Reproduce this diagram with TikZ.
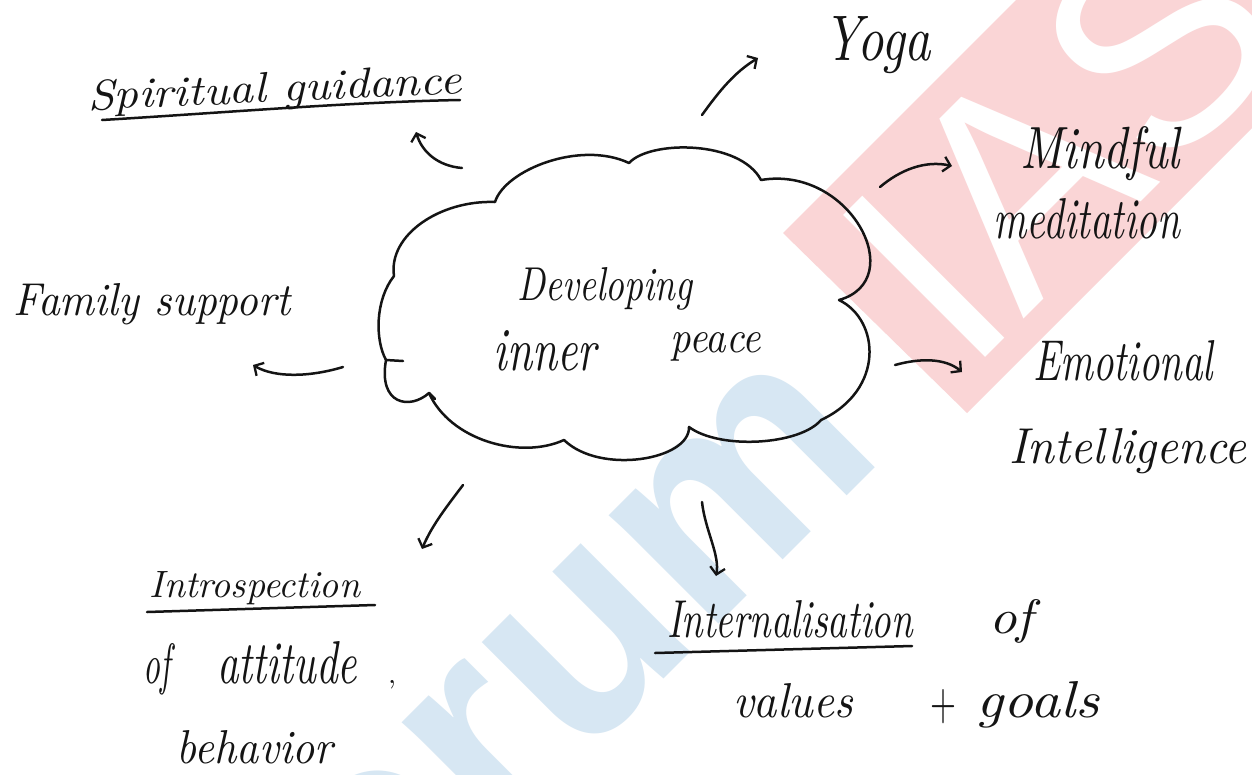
\documentclass[tikz,border=0pt]{standalone}
\usepackage{fontspec}
\usepackage{graphicx}
\newfontfamily\wmfont{Liberation Sans}
\usetikzlibrary{arrows.meta}
\definecolor{ink}{HTML}{141414}
\definecolor{wmpink}{HTML}{FAD5D6}
\definecolor{wmblue}{HTML}{D7E7F3}
\newcommand{\hw}[3]{\resizebox{#1pt}{#2pt}{\itshape #3}}
\tikzset{
  hand/.style={inner sep=0pt, anchor=base, text=ink},
  ink line/.style={draw=ink, line width=2.5pt, line cap=round, line join=round},
  cloudline/.style={draw=ink, line width=2.5pt, line cap=round, line join=round},
  pointer/.style={ink line, -{Straight Barb[length=7pt,width=15pt,line width=2.3pt]}},
  wm/.style={rotate=45, inner sep=0pt, font=\wmfont\fontsize{292}{292}\selectfont}
}
\begin{document}
\begin{tikzpicture}[x=1pt,y=-1pt]
\useasboundingbox (0,0) rectangle (1252,774);
\fill[white] (0,0) rectangle (1252,774);
% watermark
\begin{scope}
  \clip (0,0) rectangle (1252,774);
  \fill[wmpink] (783,233) -- (1016,0) -- (1252,0) -- (1252,128) -- (967,413) -- cycle;
  \node[wm, text=white, anchor=base west] (wmias) at (966,377) {IAS};
  \node[wm, text=wmblue, anchor=base east] (wmforum) at (888,455) {\bfseries forum};
\end{scope}
% cloud
\coordinate (c1) at (394,276);
\coordinate (c2) at (495,202);
\coordinate (c3) at (629,163);
\coordinate (c4) at (761,180);
\coordinate (c5) at (839,300);
\coordinate (c6) at (821,420);
\coordinate (c7) at (689,427);
\coordinate (c8) at (564,440);
\coordinate (c9) at (429,393);
\coordinate (c10) at (386,360);
\draw[cloudline] (c1) .. controls (388,235) and (440,200) .. (c2)
  .. controls (505,170) and (580,140) .. (c3)
  .. controls (650,140) and (740,140) .. (c4)
  .. controls (850,165) and (910,280) .. (c5)
  .. controls (880,320) and (885,390) .. (c6)
  .. controls (800,445) and (720,450) .. (c7)
  .. controls (690,460) and (600,475) .. (c8)
  .. controls (520,460) and (450,440) .. (c9)
  .. controls (410,410) and (378,405) .. (c10)
  .. controls (375,340) and (375,300) .. (c1);
\draw[cloudline] (c10) -- ++(17,1);
\draw[cloudline] (c9) -- ++(6,6);
% centre text
\node[hand] (dev) at (605,300) {\hw{175}{33}{Developing}};
\node[hand] (inner) at (545,370) {\hw{103}{40}{inner}};
\node[hand] (peace) at (716,352) {\hw{90}{20}{peace}};
% labels
\node[hand, rotate=2.5] (spirit) at (275,102) {\hw{374}{30}{Spiritual guidance}};
\draw[ink line] (102,120) .. controls (220,113) and (350,102) .. (460,100);
\node[hand] (yoga) at (877,60) {\hw{108}{44}{Yoga}};
\node[hand] (mind1) at (1100,168) {\hw{160}{42}{Mindful}};
\node[hand] (mind2) at (1087,238) {\hw{187}{40}{meditation}};
\node[hand] (emo1) at (1123,380) {\hw{180}{40}{Emotional}};
\node[hand] (emo2) at (1128,463) {\hw{237}{35}{Intelligence}};
\node[hand] (family) at (152,315) {\hw{277}{32}{Family support}};
\node[hand] (intro) at (255,597) {\hw{210}{26}{Introspection}};
\draw[ink line] (147,612) -- (375,605);
\node[hand] (of1) at (157,683) {\hw{27}{40}{of}};
\node[hand] (attitude) at (287,683) {\hw{140}{42}{attitude}};
\node[hand] (comma) at (392,683) {\resizebox{8pt}{!}{,}};
\node[hand] (behav) at (255,763) {\hw{156}{33}{behavior}};
\node[hand] (intern) at (790,637) {\hw{246}{37}{Internalisation}};
\draw[ink line] (655,653) -- (912,646);
\node[hand] (of2) at (1011,633) {\hw{44}{34}{of}};
\node[hand] (values) at (793,717) {\hw{120}{34}{values}};
\node[hand] (plus) at (943,719) {\resizebox{26pt}{30pt}{+}};
\node[hand] (goals) at (1038,717) {\hw{123}{36}{goals}};
% arrows
\coordinate (aS0) at (462,168); \coordinate (aS1) at (416,132);
\draw[pointer] (aS0) .. controls (438,166) and (422,152) .. (aS1);
\coordinate (aY0) at (702,115); \coordinate (aY1) at (758,58);
\draw[pointer] (aY0) .. controls (720,90) and (735,72) .. (aY1);
\coordinate (aM0) at (880,187); \coordinate (aM1) at (952,166);
\draw[pointer] (aM0) .. controls (900,170) and (925,160) .. (aM1);
\coordinate (aE0) at (895,365); \coordinate (aE1) at (962,372);
\draw[pointer] (aE0) .. controls (920,358) and (945,358) .. (aE1);
\coordinate (aF0) at (343,367); \coordinate (aF1) at (253,365);
\draw[pointer] (aF0) .. controls (310,377) and (275,378) .. (aF1);
\coordinate (aI0) at (463,485); \coordinate (aI1) at (422,549);
\draw[pointer] (aI0) .. controls (448,505) and (432,525) .. (aI1);
\coordinate (aN0) at (702,502); \coordinate (aN1) at (716,576);
\draw[pointer] (aN0) .. controls (705,530) and (720,555) .. (aN1);
\end{tikzpicture}
\end{document}
